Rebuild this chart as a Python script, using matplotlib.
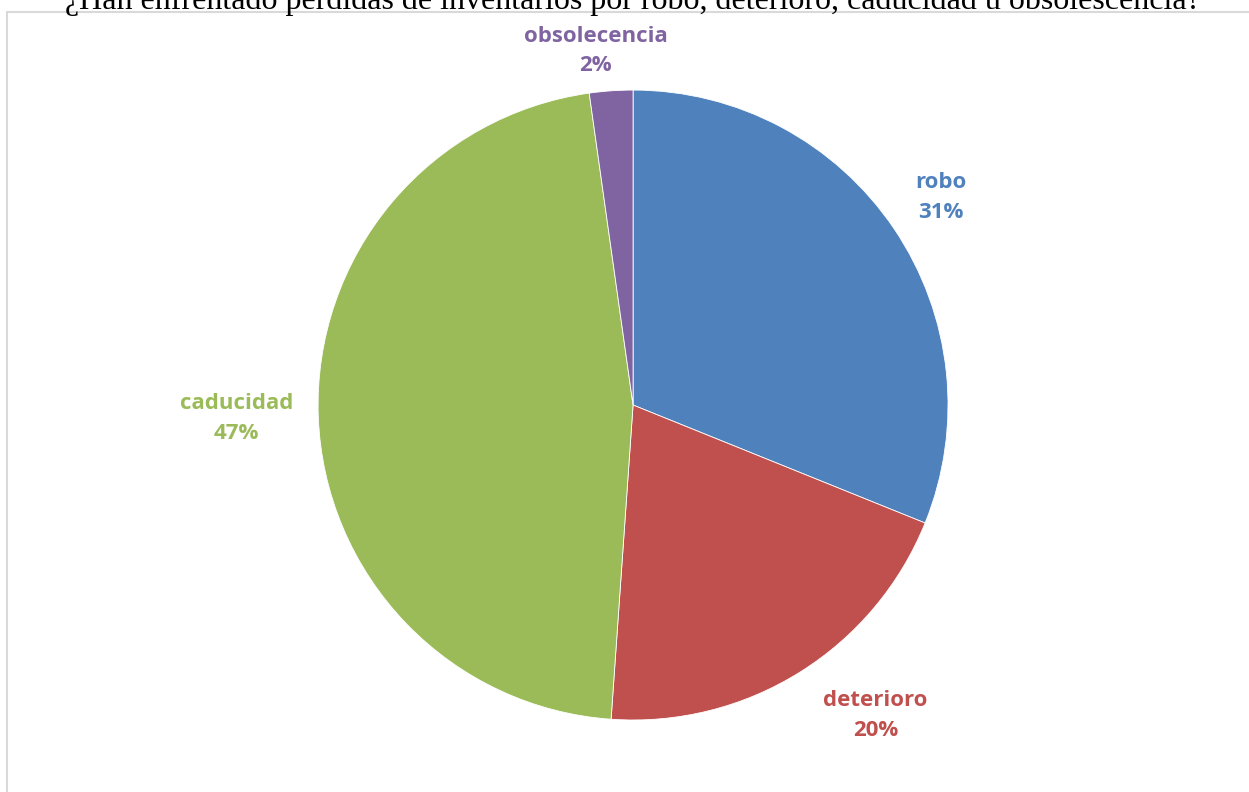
import numpy as np
import matplotlib.pyplot as plt
from matplotlib.patches import Rectangle

# Datos del gráfico
categorias = ["robo", "deterioro", "caducidad", "obsolecencia"]
respuestas = [14, 9, 21, 1]
colores = ["#4F81BD", "#C0504D", "#9BBB59", "#8064A2"]
titulo = "¿Han enfrentado pérdidas de inventarios por robo, deterioro, caducidad u obsolescencia?"

fig = plt.figure(figsize=(12.49, 7.92), dpi=100)

# Marco gris del área del gráfico
fig.patches.append(Rectangle((7 / 1249, -0.05), 1.1, (792 - 12) / 792 + 0.05,
                             transform=fig.transFigure, fill=False,
                             edgecolor="#D9D9D9", linewidth=1.5))

# Título (cortado arriba como en la imagen original)
fig.text(633 / 1249, 1 - 9 / 792, titulo, ha="center", va="baseline",
         fontsize=23, family="Liberation Serif", color="black")

ax = fig.add_axes([0.179, -0.0284, 0.6557, 1.034])
wedges, _ = ax.pie(respuestas, colors=colores, startangle=90, counterclock=False,
                   radius=1.0, wedgeprops=dict(linewidth=0.6, edgecolor="white"))
ax.set_xlim(-1.3, 1.3)
ax.set_ylim(-1.3, 1.3)
ax.set_aspect("equal")
ax.axis("off")

# Etiquetas con nombre y porcentaje
total = sum(respuestas)
distancias = [1.18, 1.25, 1.26, 1.13]
desfases = [0, 6, 0, 2]
for w, cat, val, col, d, off in zip(wedges, categorias, respuestas, colores, distancias, desfases):
    ang = np.deg2rad((w.theta1 + w.theta2) / 2 + off)
    x, y = d * np.cos(ang), d * np.sin(ang)
    ax.text(x, y, f"{cat}\n{val / total * 100:.0f}%", ha="center", va="center",
            color=col, fontsize=16, fontweight="bold", family="Open Sans",
            linespacing=1.55)

fig.savefig("out.png", dpi=100)
